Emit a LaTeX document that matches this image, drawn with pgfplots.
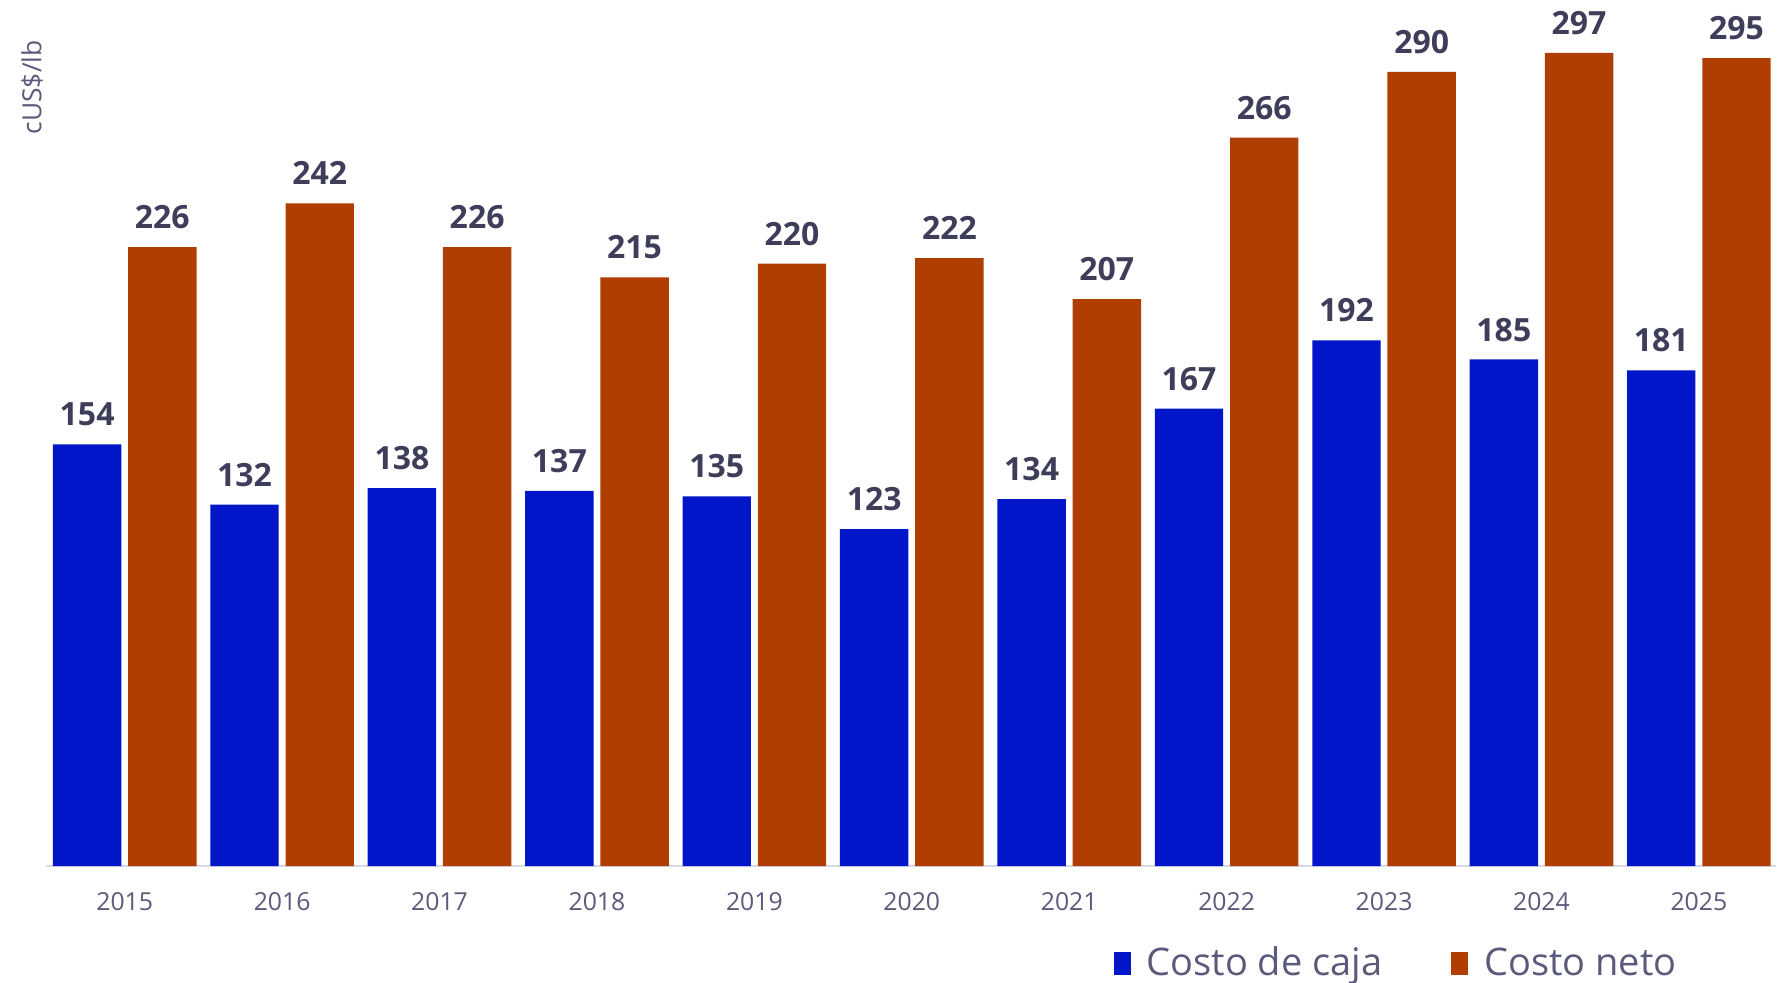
\documentclass[border=0pt]{standalone}
\usepackage{pgfplots}
\pgfplotsset{compat=1.18}
\usepackage{fontspec}
\setmainfont{Open Sans}
\definecolor{cblue}{RGB}{0,22,200}
\definecolor{corange}{RGB}{176,62,0}
\definecolor{lab}{RGB}{62,62,90}
\definecolor{tick}{RGB}{90,90,122}
\definecolor{axl}{RGB}{216,216,230}
\begin{document}
\begin{tikzpicture}
\useasboundingbox (-24.5pt,-58pt) rectangle (869pt,433pt);
\begin{axis}[
  scale only axis, width=865pt, height=434pt,
  at={(-1.5pt,0pt)},
  xmin=-0.5, xmax=10.49, ymin=0, ymax=317,
  ybar=3.4pt, bar width=34.2pt,
  hide y axis, axis x line*=bottom,
  x axis line style={draw=axl, line width=1pt, -},
  xtick={0,...,10}, major tick length=0pt,
  xticklabels={2015,2016,2017,2018,2019,2020,2021,2022,2023,2024,2025},
  xticklabel style={anchor=base, yshift=-22.4pt, font=\fontsize{12.4}{14}\selectfont, text=tick},
  clip=false,
  /pgf/number format/assume math mode=true,
  nodes near coords,
  every node near coord/.append style={anchor=base, yshift=9.2pt, inner sep=0pt, font=\fontsize{16}{18}\selectfont\bfseries, text=lab},
  legend columns=2,
  legend style={at={(0.781,-0.1118)}, anchor=center, draw=none, fill=none, inner sep=0pt,
    font=\fontsize{19}{22}\selectfont, text=tick,
    /tikz/every odd column/.append style={column sep=6pt},
    /tikz/every even column/.append style={column sep=32.5pt}},
  legend image code/.code={\fill[#1] (0pt,-5.75pt) rectangle (8.5pt,5.75pt);},
]
\addplot[fill=cblue, draw=none] coordinates {(0,154) (1,132) (2,138) (3,137) (4,135) (5,123) (6,134) (7,167) (8,192) (9,185) (10,181)};
\addplot[fill=corange, draw=none] coordinates {(0,226) (1,242) (2,226) (3,215) (4,220) (5,222) (6,207) (7,266) (8,290) (9,297) (10,295)};
\legend{Costo de caja, Costo neto}
\end{axis}
\node[rotate=90, anchor=east, inner sep=0pt, font=\fontsize{13.2}{15}\selectfont, text=tick] at (-8.5pt,413pt) {cUS\$/lb};
\end{tikzpicture}
\end{document}
